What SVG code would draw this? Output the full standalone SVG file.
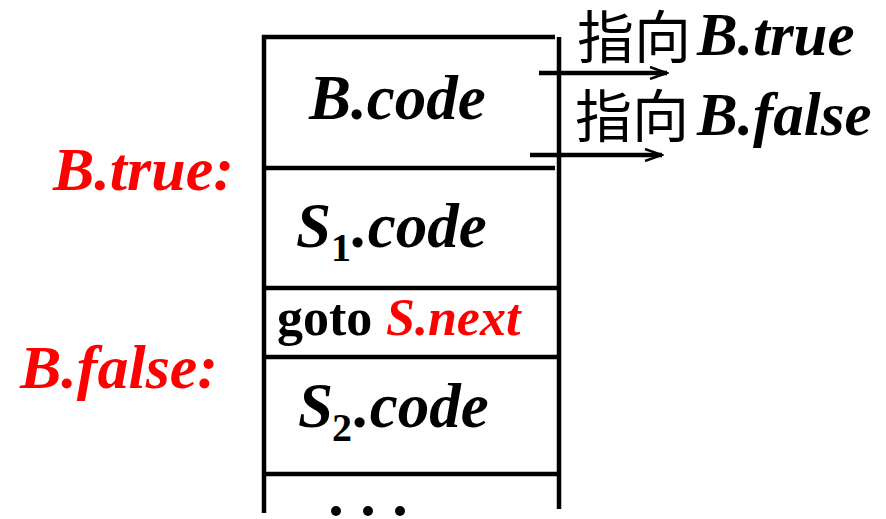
<svg xmlns="http://www.w3.org/2000/svg" width="886" height="519" viewBox="0 0 886 519">
  <defs>
    <marker id="arrow" markerWidth="20" markerHeight="14" refX="18" refY="7" orient="auto" markerUnits="userSpaceOnUse">
      <path d="M1,1 L18,7 L1,13" fill="none" stroke="#000" stroke-width="2.5"/>
    </marker>
    <style>
      .frame { stroke: #000; stroke-width: 4.5; fill: none; stroke-linecap: butt; }
      .bi { font-family: "Liberation Serif", serif; font-weight: bold; font-style: italic; }
      .code { font-size: 63px; fill: #000; }
      .label { font-size: 62px; fill: #ff0000; }
      .tgt { font-size: 61px; fill: #000; }
      .sub { font-family: "Liberation Serif", serif; font-weight: bold; font-size: 40px; fill: #000; }
      .goto { font-family: "Liberation Serif", serif; font-weight: bold; font-size: 52px; fill: #000; }
      .red { fill: #ff0000; }
      .cjk { font-family: "Noto Sans CJK SC", sans-serif; font-size: 57px; fill: #000; }
      .conn { stroke: #000; stroke-width: 4.5; fill: none; }
    </style>
  </defs>
  <rect width="886" height="519" fill="#fff"/>

  <!-- stack frame: side walls and top edge -->
  <g id="frame">
    <line class="frame" x1="264" y1="35" x2="264" y2="513"/>
    <line class="frame" x1="559" y1="37" x2="559" y2="509"/>
    <line class="frame" x1="262" y1="37" x2="555" y2="37"/>
  </g>

  <g id="b-code">
    <line class="frame" x1="264" y1="168" x2="555" y2="168"/>
    <text class="bi code" x="309" y="119">B.code</text>
  </g>

  <g id="s1-code">
    <line class="frame" x1="264" y1="288" x2="557" y2="288"/>
    <text class="bi code" x="296" y="247">S</text>
    <text class="sub" x="331" y="261">1</text>
    <text class="bi code" x="352" y="247">.code</text>
  </g>

  <g id="goto">
    <line class="frame" x1="264" y1="357" x2="557" y2="357"/>
    <text class="goto" x="277" y="335">goto</text>
    <text class="bi goto red" x="386" y="335">S.next</text>
  </g>

  <g id="s2-code">
    <line class="frame" x1="264" y1="474" x2="557" y2="474"/>
    <text class="bi code" x="298" y="427">S</text>
    <text class="sub" x="332" y="441">2</text>
    <text class="bi code" x="354" y="427">.code</text>
  </g>

  <g id="ellipsis" fill="#000">
    <circle cx="336" cy="511" r="5"/>
    <circle cx="368" cy="511" r="5"/>
    <circle cx="400" cy="511" r="5"/>
  </g>

  <!-- jump target labels -->
  <g id="label-true">
    <text class="bi label" x="53" y="190">B.true:</text>
  </g>
  <g id="label-false">
    <text class="bi label" x="20" y="388">B.false:</text>
  </g>

  <!-- outgoing jumps -->
  <g id="connectors">
    <line class="conn" x1="539" y1="73" x2="667" y2="73" marker-end="url(#arrow)"/>
    <line class="conn" x1="530" y1="155" x2="662" y2="155" marker-end="url(#arrow)"/>
  </g>

  <g id="target-true">
    <text class="cjk" x="577" y="58">指向</text>
    <text class="bi tgt" x="697" y="55">B.true</text>
  </g>
  <g id="target-false">
    <text class="cjk" x="575" y="137">指向</text>
    <text class="bi tgt" x="697" y="135">B.false</text>
  </g>
</svg>
